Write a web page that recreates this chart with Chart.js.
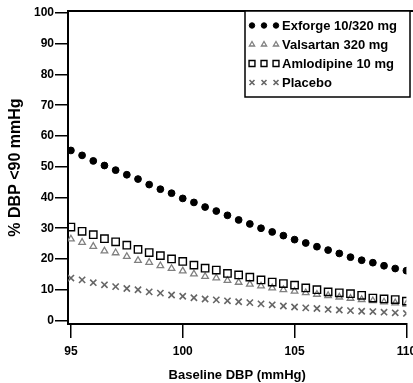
<!DOCTYPE html>
<html>
<head>
<meta charset="utf-8">
<style>
  html, body { margin: 0; padding: 0; background: #fff; }
  #wrap { width: 413px; height: 383px; position: relative; }
</style>
<script src="https://cdn.jsdelivr.net/npm/chart.js@4.4.1/dist/chart.umd.min.js"></script>
</head>
<body>
<div id="wrap"><canvas id="dbpChart" width="413" height="383"></canvas></div>
<script>
// ─── DATA ─────────────────────────────────────────────────
const baselineDbp = [95, 95.5, 96, 96.5, 97, 97.5, 98, 98.5, 99, 99.5, 100, 100.5, 101, 101.5, 102, 102.5,
                     103, 103.5, 104, 104.5, 105, 105.5, 106, 106.5, 107, 107.5, 108, 108.5, 109, 109.5, 110];

const exforge    = [55.3, 53.7, 51.9, 50.4, 48.9, 47.4, 46.0, 44.2, 42.7, 41.4, 39.7, 38.4, 36.9, 35.6, 34.2, 32.7,
                    31.4, 30.0, 28.8, 27.6, 26.3, 25.2, 24.0, 22.9, 21.8, 20.6, 19.6, 18.8, 17.8, 16.9, 16.2];
const valsartan  = [26.5, 25.4, 24.1, 22.6, 22.0, 20.8, 19.5, 18.9, 17.8, 16.9, 16.1, 15.1, 14.3, 13.8, 13.0, 12.4,
                    11.8, 11.2, 10.6, 10.0, 9.5, 9.0, 8.5, 8.1, 7.6, 7.2, 6.8, 6.4, 6.0, 5.7, 5.3];
const amlodipine = [30.4, 29.0, 27.9, 26.6, 25.6, 24.5, 23.1, 22.1, 21.1, 20.0, 19.2, 18.0, 17.0, 16.4, 15.3, 14.8,
                    14.1, 13.2, 12.5, 12.0, 11.5, 10.6, 10.0, 9.3, 9.0, 8.7, 8.2, 7.3, 7.0, 6.8, 6.3];
const placebo    = [13.8, 13.2, 12.3, 11.6, 11.0, 10.4, 10.0, 9.3, 8.9, 8.3, 7.9, 7.4, 7.0, 6.7, 6.4, 6.1,
                    5.8, 5.4, 5.1, 4.7, 4.4, 4.1, 3.9, 3.6, 3.4, 3.2, 3.0, 2.9, 2.7, 2.5, 2.3];

const seriesLabels = ['Exforge 10/320 mg', 'Valsartan 320 mg', 'Amlodipine 10 mg', 'Placebo'];
const xTicks = [95, 100, 105, 110];
const yTicks = [0, 10, 20, 30, 40, 50, 60, 70, 80, 90, 100];

const FONT = '"Liberation Sans", Arial, Helvetica, sans-serif';

// ─── STYLES ───────────────────────────────────────────────
const styles = [
    { pointStyle: 'circle',   radius: 3.4, bg: '#000', border: '#000', width: 1 },
    { pointStyle: 'triangle', radius: 3.8, bg: 'rgba(0,0,0,0)', border: '#808080', width: 1.3 },
    { pointStyle: 'rect',     radius: 5.2, bg: 'rgba(0,0,0,0)', border: '#000', width: 1.4 },
    { pointStyle: 'crossRot', radius: 4.4, bg: 'rgba(0,0,0,0)', border: '#666', width: 1.6 },
];

const seriesValues = [exforge, valsartan, amlodipine, placebo];

const datasets = seriesValues.map((vals, i) => ({
    label: seriesLabels[i],
    data: vals.map((v, k) => ({ x: baselineDbp[k], y: v })),
    showLine: false,
    pointStyle: styles[i].pointStyle,
    pointRadius: styles[i].radius,
    pointBackgroundColor: styles[i].bg,
    pointBorderColor: styles[i].border,
    pointBorderWidth: styles[i].width,
    order: 3 - i,
}));

// ─── PLUGINS ──────────────────────────────────────────────
// Top frame line + custom legend box with three markers per row
const framePlugin = {
    id: 'frame',
    afterDraw(chart) {
        const { ctx, chartArea } = chart;
        ctx.save();
        ctx.strokeStyle = '#000';
        ctx.lineWidth = 2;
        ctx.beginPath();
        ctx.moveTo(chartArea.left - 1, chartArea.top);
        ctx.lineTo(chart.width, chartArea.top);
        ctx.stroke();

        // legend box
        const box = { x: 245, y: 11, w: 165, h: 86 };
        ctx.fillStyle = '#fff';
        ctx.fillRect(box.x, box.y, box.w, box.h);
        ctx.lineWidth = 1.5;
        ctx.strokeRect(box.x, box.y, box.w, box.h);

        ctx.font = 'bold 13px ' + FONT;
        ctx.textBaseline = 'middle';
        ctx.textAlign = 'left';
        seriesLabels.forEach((label, i) => {
            const y = 25.5 + i * 19;
            const s = styles[i];
            [252, 264, 276].forEach(x => {
                ctx.fillStyle = s.bg;
                ctx.strokeStyle = s.border;
                ctx.lineWidth = s.width;
                Chart.helpers.drawPoint(ctx, { pointStyle: s.pointStyle, radius: s.radius * 0.8, borderWidth: s.width }, x, y);
            });
            ctx.fillStyle = '#000';
            ctx.fillText(label, 282, y + 0.5);
        });
        ctx.restore();
    }
};

// ─── CHART ────────────────────────────────────────────────
new Chart(document.getElementById('dbpChart').getContext('2d'), {
    type: 'scatter',
    data: { datasets },
    options: {
        responsive: false,
        animation: false,
        layout: { padding: { top: 11, right: 2, left: 0, bottom: 0 } },
        plugins: {
            legend: { display: false },
            tooltip: { enabled: false },
        },
        scales: {
            x: {
                type: 'linear',
                min: 94.87,
                max: 110,
                afterBuildTicks: (s) => { s.ticks = xTicks.map(v => ({ value: v })); },
                afterFit: (s) => { s.height = 59; s.paddingLeft = 0; s.paddingRight = 0; },
                grid: { drawOnChartArea: false, drawTicks: true, tickLength: 14, color: '#000', lineWidth: 1.5 },
                border: { display: true, color: '#000', width: 2 },
                ticks: {
                    color: '#000', padding: 6, maxRotation: 0, autoSkip: false,
                    font: { family: FONT, size: 12, weight: 'bold' },
                },
                title: {
                    display: true, text: 'Baseline DBP (mmHg)', color: '#000', padding: { top: 2, bottom: 0 },
                    font: { family: FONT, size: 13, weight: 'bold' },
                },
            },
            y: {
                type: 'linear',
                min: -1.14,
                max: 100.65,
                afterBuildTicks: (s) => { s.ticks = yTicks.map(v => ({ value: v })); },
                afterFit: (s) => { s.width = 68; s.paddingTop = 0; s.paddingBottom = 0; },
                grid: { drawOnChartArea: false, drawTicks: true, tickLength: 13, color: '#000', lineWidth: 1.5 },
                border: { display: true, color: '#000', width: 2 },
                ticks: {
                    color: '#000', padding: 1, autoSkip: false,
                    font: { family: FONT, size: 12, weight: 'bold' },
                },
                title: {
                    display: true, text: '% DBP <90 mmHg', color: '#000', padding: { top: 6, bottom: 0 },
                    font: { family: FONT, size: 16, weight: 'bold' },
                },
            },
        },
    },
    plugins: [framePlugin],
});
</script>
</body>
</html>
